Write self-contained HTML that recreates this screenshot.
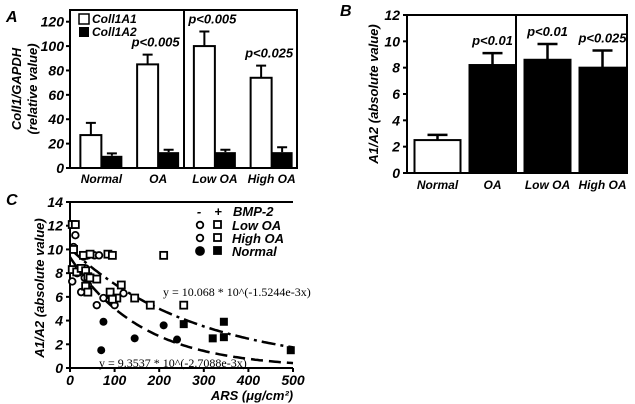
<!DOCTYPE html>
<html><head><meta charset="utf-8"><style>
html,body{margin:0;padding:0;background:#fff;}
svg{display:block;}
text{font-family:"Liberation Sans",sans-serif;font-weight:bold;font-style:italic;fill:#000;}
.eq{font-family:"Liberation Serif",serif;font-weight:normal;font-style:normal;font-size:12px;}
</style></head><body>
<svg id="fig" width="635" height="404" viewBox="0 0 635 404" xmlns="http://www.w3.org/2000/svg">
<g id="A"></g>
<g id="B"></g>
<g id="C"></g>
</svg>
<script>
// Panel A data
const catsA = ["Normal","OA","Low OA","High OA"];
const a1Vals = [27,85,100,74];
const a1Err = [10,8,12,10];
const a2Vals = [10,13,13,13];
const a2Err = [2,2,2,4];
const pA = ["","p<0.005","p<0.005","p<0.025"];
const ticksA = [0,20,40,60,80,100,120];
// Panel B data
const catsB = ["Normal","OA","Low OA","High OA"];
const bVals = [2.5,8.2,8.6,8.0];
const bErr = [0.4,0.9,1.2,1.3];
const pB = ["","p<0.01","p<0.01","p<0.025"];
const ticksB = [0,2,4,6,8,10,12];
// Panel C data
const openCircX = [5,12,8,16,25,30,40,55,65,33,40,60,75,90,100,120,35];
const openCircY = [7.3,11.2,10.2,8.0,6.4,9.4,9.5,9.5,9.5,7.6,7.0,5.3,5.9,6.1,5.3,6.3,8.4];
const openSqX = [5,12,8,5,15,25,30,35,40,35,40,45,45,60,85,95,90,105,115,145,180,210,255,95];
const openSqY = [12.1,12.1,10.0,8.3,8.1,8.4,9.5,8.2,7.7,6.9,6.4,7.6,9.6,7.5,9.6,9.5,6.4,5.9,7.0,5.9,5.3,9.5,5.3,5.8];
const fillCircX = [75,70,145,210,240];
const fillCircY = [3.9,1.5,2.5,3.6,2.4];
const fillSqX = [255,320,345,345,495];
const fillSqY = [3.7,2.5,2.6,3.9,1.5];
const fitA = [10.068,-1.5244e-3];
const fitB = [9.3537,-2.7088e-3];
const ticksCx = [0,100,200,300,400,500];
const ticksCy = [0,2,4,6,8,10,12,14];

const NS="http://www.w3.org/2000/svg";
function el(parent,tag,attrs,txt){const e=document.createElementNS(NS,tag);for(const k in attrs)e.setAttribute(k,attrs[k]);if(txt!==undefined)e.textContent=txt;parent.appendChild(e);return e;}

// ---------- Panel A ----------
(function(){
const g=document.getElementById('A');
const L=70,R=297,T=10,Bt=168;
const y=v=>Bt-(v/120)*(Bt-21.7);
const band=(R-L)/4;
const cx=i=>L+band*(i+0.5)+3;
let t=el(g,'text',{x:6,y:22,'font-size':16},'A');

el(g,'path',{d:`M${L} ${T}H${R}V${Bt}H${L}Z`,fill:'none',stroke:'#000','stroke-width':2});
el(g,'line',{x1:184,y1:T,x2:184,y2:Bt,stroke:'#000','stroke-width':2});
ticksA.forEach(v=>{
 el(g,'line',{x1:L-4,y1:y(v),x2:L,y2:y(v),stroke:'#000','stroke-width':2});
 const tt=el(g,'text',{x:L-6,y:y(v)+5,'font-size':14,'text-anchor':'end'},v);
 
});
const yl=el(g,'text',{transform:'translate(21,89) rotate(-90)','font-size':13,'text-anchor':'middle'},'Coll1/GAPDH');

const yl2=el(g,'text',{transform:'translate(37,89) rotate(-90)','font-size':13,'text-anchor':'middle'},'(relative value)');

const bw=21;
catsA.forEach((c,i)=>{
 const x0=cx(i)-bw;
 const b1=el(g,'rect',{x:x0,y:y(a1Vals[i]),width:bw,height:Bt-y(a1Vals[i]),fill:'#fff',stroke:'#000','stroke-width':2});
 
 el(g,'path',{d:`M${x0+bw/2} ${y(a1Vals[i])}V${y(a1Vals[i]+a1Err[i])}M${x0+bw/2-5} ${y(a1Vals[i]+a1Err[i])}H${x0+bw/2+5}`,stroke:'#000','stroke-width':2,fill:'none'});
 const b2=el(g,'rect',{x:x0+bw,y:y(a2Vals[i]),width:bw,height:Bt-y(a2Vals[i]),fill:'#000'});
 
 el(g,'path',{d:`M${x0+bw*1.5} ${y(a2Vals[i])}V${y(a2Vals[i]+a2Err[i])}M${x0+bw*1.5-5} ${y(a2Vals[i]+a2Err[i])}H${x0+bw*1.5+5}`,stroke:'#000','stroke-width':2,fill:'none'});
 const xl=el(g,'text',{x:cx(i),y:183,'font-size':12,'text-anchor':'middle'},c);
 
 if(pA[i]){const p=el(g,'text',{x:x0+bw/2+8,y:y(a1Vals[i]+a1Err[i])-8,'font-size':13,'text-anchor':'middle'},pA[i]);
 }
});
el(g,'rect',{x:79,y:14,width:10,height:10,fill:'#fff',stroke:'#000','stroke-width':1.5});
let lt=el(g,'text',{x:92,y:23,'font-size':12},'Coll1A1');
el(g,'rect',{x:79,y:27,width:10,height:10,fill:'#000'});
lt=el(g,'text',{x:92,y:36,'font-size':12},'Coll1A2');
})();

// ---------- Panel B ----------
(function(){
const g=document.getElementById('B');
const L=407,R=627,T=15,Bt=173;
const y=v=>Bt-(v/12)*(Bt-T);
const band=(R-L)/4;
const cx=i=>L+band*(i+0.5)+3;
let t=el(g,'text',{x:340,y:16,'font-size':16},'B');

el(g,'path',{d:`M${L} ${T}H${R}V${Bt}H${L}Z`,fill:'none',stroke:'#000','stroke-width':2});
el(g,'line',{x1:516,y1:T,x2:516,y2:Bt,stroke:'#000','stroke-width':2});
ticksB.forEach(v=>{
 el(g,'line',{x1:L-4,y1:y(v),x2:L,y2:y(v),stroke:'#000','stroke-width':2});
 const tt=el(g,'text',{x:L-7,y:y(v)+5,'font-size':14,'text-anchor':'end'},v);
 
});
const yl=el(g,'text',{transform:'translate(378,94) rotate(-90)','font-size':13,'text-anchor':'middle'},'A1/A2 (absolute value)');

const bw=46;
catsB.forEach((c,i)=>{
 const x0=cx(i)-bw/2;
 const b=el(g,'rect',{x:x0,y:y(bVals[i]),width:bw,height:Bt-y(bVals[i]),fill:i===0?'#fff':'#000',stroke:'#000','stroke-width':2});
 
 el(g,'path',{d:`M${cx(i)} ${y(bVals[i])}V${y(bVals[i]+bErr[i])}M${cx(i)-10} ${y(bVals[i]+bErr[i])}H${cx(i)+10}`,stroke:'#000','stroke-width':2.5,fill:'none'});
 const xl=el(g,'text',{x:cx(i),y:189,'font-size':12,'text-anchor':'middle'},c);
 
 if(pB[i]){const p=el(g,'text',{x:cx(i),y:y(bVals[i]+bErr[i])-8,'font-size':13,'text-anchor':'middle'},pB[i]);
 }
});
})();

// ---------- Panel C ----------
(function(){
const g=document.getElementById('C');
const L=70,R=293,T=202,Bt=368;
const x=v=>L+v/500*(R-L);
const y=v=>Bt-v/14*(Bt-T);
let t=el(g,'text',{x:6,y:205,'font-size':16},'C');

el(g,'path',{d:`M${R} ${T}H${L}V${Bt}H${R}`,fill:'none',stroke:'#000','stroke-width':2});
ticksCy.forEach(v=>{
 el(g,'line',{x1:L-4,y1:y(v),x2:L,y2:y(v),stroke:'#000','stroke-width':2});
 const tt=el(g,'text',{x:L-7,y:y(v)+5,'font-size':14,'text-anchor':'end'},v);
 
});
ticksCx.forEach(v=>{
 el(g,'line',{x1:x(v),y1:Bt,x2:x(v),y2:Bt+4,stroke:'#000','stroke-width':2});
 const tt=el(g,'text',{x:x(v),y:385,'font-size':14,'text-anchor':'middle'},v);
 
});
const yl=el(g,'text',{transform:'translate(44,288) rotate(-90)','font-size':13,'text-anchor':'middle'},'A1/A2 (absolute value)');

const xl=el(g,'text',{x:252,y:400,'font-size':13,'text-anchor':'middle'},'ARS (\u03bcg/cm\u00b2)');

function curve(p,dash,name){let d='';for(let v=0;v<=500;v+=5){d+=(v?'L':'M')+x(v).toFixed(1)+' '+y(p[0]*Math.pow(10,p[1]*v)).toFixed(1);}
 const c=el(g,'path',{d:d,fill:'none',stroke:'#000','stroke-width':2.5,'stroke-dasharray':dash});
 }
curve(fitA,'14 5 3 5','fit-curve-bmp2');
curve(fitB,'12 6','fit-curve-no-bmp2');
openCircX.forEach((v,i)=>{const c=el(g,'circle',{cx:x(v),cy:y(openCircY[i]),r:3.3,fill:'#fff',stroke:'#000','stroke-width':1.8});
 });
openSqX.forEach((v,i)=>{const c=el(g,'rect',{x:x(v)-3.5,y:y(openSqY[i])-3.5,width:7,height:7,fill:'#fff',stroke:'#000','stroke-width':1.8});
 });
fillCircX.forEach((v,i)=>{const c=el(g,'circle',{cx:x(v),cy:y(fillCircY[i]),r:4,fill:'#000'});
 });
fillSqX.forEach((v,i)=>{const c=el(g,'rect',{x:x(v)-4,y:y(fillSqY[i])-4,width:8,height:8,fill:'#000'});
 });
let e=el(g,'text',{x:163,y:296,class:'eq'},'y = 10.068 * 10^(-1.5244e-3x)');

e=el(g,'text',{x:99,y:367,class:'eq'},'y = 9.3537 * 10^(-2.7088e-3x)');

el(g,'text',{x:199,y:216,'font-size':13,'text-anchor':'middle'},'-');
el(g,'text',{x:218,y:216,'font-size':13,'text-anchor':'middle'},'+');
let lg=el(g,'text',{x:233,y:216,'font-size':13},'BMP-2');
[['Low OA',230,false],['High OA',243,false],['Normal',256,true]].forEach(r=>{
 el(g,'circle',{cx:200,cy:r[1]-5,r:r[2]?4:3.3,fill:r[2]?'#000':'#fff',stroke:'#000','stroke-width':1.8});
 el(g,'rect',{x:214,y:r[1]-9,width:7,height:7,fill:r[2]?'#000':'#fff',stroke:'#000','stroke-width':1.8});
 const l=el(g,'text',{x:232,y:r[1],'font-size':13},r[0]);
 
});
})();
</script>
</body></html>
